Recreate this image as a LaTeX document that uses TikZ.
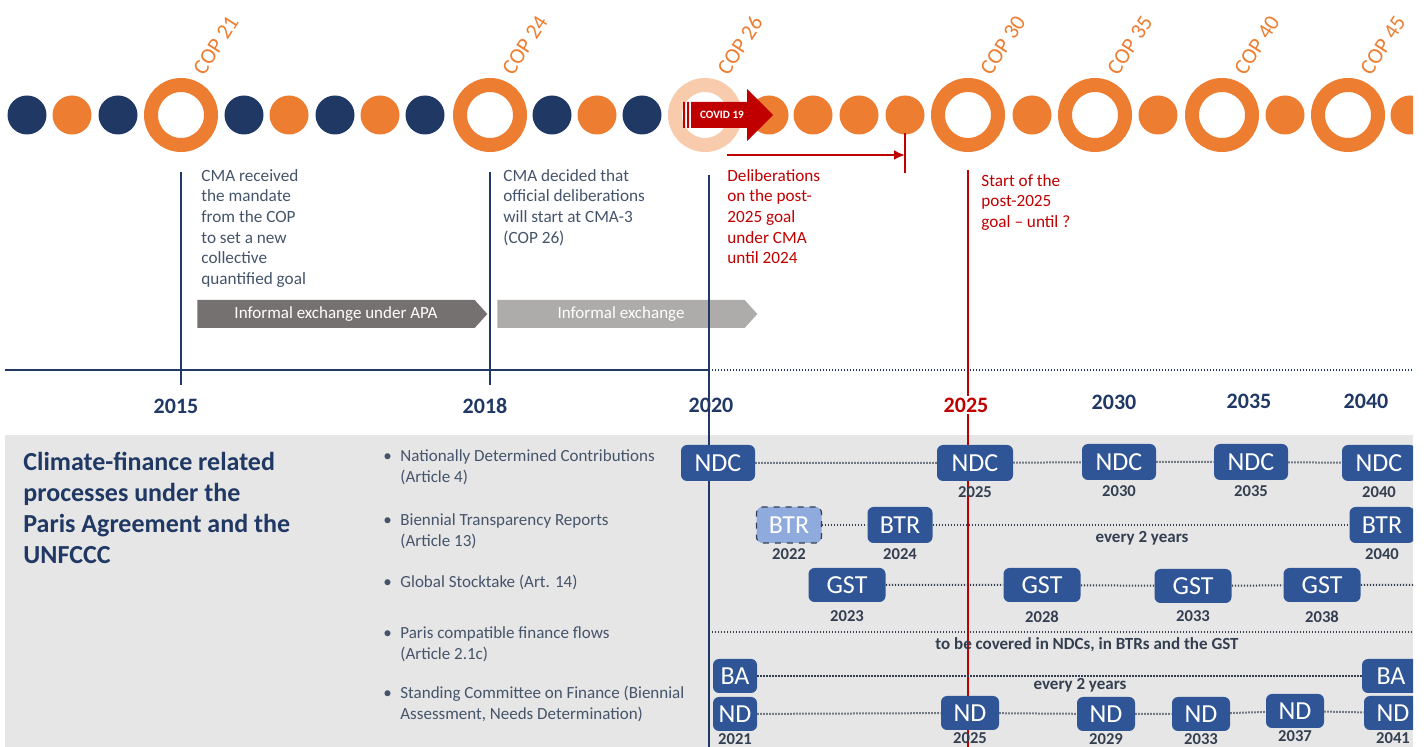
\documentclass[tikz,border=0pt]{standalone}
\usepackage{fontspec}
\setmainfont{Carlito}
\usepackage{tikz}
\usetikzlibrary{positioning,shapes,arrows.meta,calc}
\definecolor{copNavy}{HTML}{203864}
\definecolor{copOrange}{HTML}{ED7D31}
\definecolor{copPale}{HTML}{F8CBAD}
\definecolor{covidRed}{HTML}{C00000}
\definecolor{noteSlate}{HTML}{44546A}
\definecolor{exDark}{HTML}{767171}
\definecolor{exLight}{HTML}{AEABAB}
\definecolor{panelGray}{HTML}{E7E6E6}
\definecolor{procBlue}{HTML}{2F5597}
\definecolor{procLight}{HTML}{8FAADC}
\definecolor{procSlate}{HTML}{333F50}
\tikzset{
    copRing/.style={circle, draw=copOrange, line width=7pt, minimum size=30pt, inner sep=0pt, fill=white},
    copLabel/.style={rotate=57, anchor=west, inner sep=0pt, text=copOrange, font=\fontsize{11}{12}\selectfont},
    noteBase/.style={anchor=north west, align=left, inner sep=0pt, font=\fontsize{8.6}{10.3}\selectfont},
    note/.style={noteBase, text=noteSlate},
    noteRed/.style={noteBase, text=covidRed},
    exchange/.style={signal, signal to=east, signal pointer angle=96, minimum height=14pt, inner sep=0pt, text=white, font=\fontsize{8.5}{9}\selectfont},
    yearLabel/.style={font=\bfseries\fontsize{11}{12}\selectfont, text=copNavy, inner sep=1pt},
    % Process boxes
    proc/.style={rectangle, rounded corners=3pt, fill=procBlue, text=white, font=\fontsize{13}{13}\selectfont, minimum height=18pt, inner sep=0pt},
    procDraft/.style={proc, fill=procLight, draw=procSlate, dashed, line width=0.6pt},
    procYear/.style={font=\bfseries\fontsize{8.3}{9}\selectfont, text=procSlate, inner sep=0.5pt},
    procNote/.style={font=\bfseries\fontsize{8.5}{9}\selectfont, text=procSlate, inner sep=1pt},
    bulletItem/.style={anchor=north west, inner sep=0pt, text=noteSlate, font=\fontsize{8.5}{10.3}\selectfont},
    % Lines
    dotLink/.style={draw=procSlate, line width=1pt, dash pattern=on 0.6pt off 0.9pt},
    navyLine/.style={draw=copNavy, line width=1pt},
    redLine/.style={draw=covidRed, line width=1pt}
}
\begin{document}
\begin{tikzpicture}[x=0.5pt, y=-0.5pt,
    arr/.style={-{Latex[length=5.5pt, width=5pt]}, redLine, line width=1.2pt}
]
\useasboundingbox (0,0) rectangle (1424,747);
\clip (0,0) rectangle (1413,747);

% COP sequence
\fill[copNavy] (27,115) circle[radius=9.75pt] (118,115) circle[radius=9.75pt]
    (244,115) circle[radius=9.75pt] (335,115) circle[radius=9.75pt]
    (425,115) circle[radius=9.75pt] (552,115) circle[radius=9.75pt]
    (642,115) circle[radius=9.75pt];
\fill[copOrange] (72,115) circle[radius=9.75pt] (289,115) circle[radius=9.75pt]
    (380,115) circle[radius=9.75pt] (597,115) circle[radius=9.75pt]
    (769,115) circle[radius=9.75pt] (813,115) circle[radius=9.75pt]
    (859,115) circle[radius=9.75pt] (905,115) circle[radius=9.75pt]
    (1032,115) circle[radius=9.75pt] (1158,115) circle[radius=9.75pt]
    (1285,115) circle[radius=9.75pt] (1410,115) circle[radius=9.75pt];
\node[copRing] (cop21) at (181,115) {};
\node[copRing] (cop24) at (490,115) {};
\node[copRing, draw=copPale] (cop26) at (705,115) {};
\node[copRing] (cop30) at (968,115) {};
\node[copRing] (cop35) at (1095,115) {};
\node[copRing] (cop40) at (1222,115) {};
\node[copRing] (cop45) at (1348,115) {};
\node[copLabel] (cop21l) at ([shift={(17,-42)}]cop21.center) {COP 21};
\node[copLabel] (cop24l) at ([shift={(17,-42)}]cop24.center) {COP 24};
\node[copLabel] (cop26l) at ([shift={(17,-42)}]cop26.center) {COP 26};
\node[copLabel] (cop30l) at ([shift={(17,-42)}]cop30.center) {COP 30};
\node[copLabel] (cop35l) at ([shift={(17,-42)}]cop35.center) {COP 35};
\node[copLabel] (cop40l) at ([shift={(17,-42)}]cop40.center) {COP 40};
\node[copLabel] (cop45l) at ([shift={(17,-42)}]cop45.center) {COP 45};

% COVID arrow
\fill[covidRed] (683,102) rectangle (685,128) (687,102) rectangle (689,128);
\fill[covidRed] (691,102) -- (747,102) -- (747,89) -- (773,115) -- (747,141)
    -- (747,128) -- (691,128) -- cycle;
\node[text=white, font=\bfseries\fontsize{5.6}{6}\selectfont] (covid) at (722,115) {COVID 19};

% Deliberation period
\coordinate (delA) at (727,155);
\coordinate (delB) at (905,155);
\draw[arr] (delA) -- (delB);
\draw[redLine] (905,133) -- (905,173);

% Notes
\node[note] (mandate) at (201,169) {CMA received\\the mandate\\from the COP\\to set a new\\collective\\quantified goal};
\node[note] (decided) at (503,169) {CMA decided that\\official deliberations\\will start at CMA-3\\(COP 26)};
\node[noteRed] (deliber) at (727,169) {Deliberations\\on the post-\\2025 goal\\under CMA\\until 2024};
\node[noteRed] (start) at (981,174) {Start of the\\post-2025\\goal -- until ?};

\node[exchange, fill=exDark, minimum width=145pt] (apa) at (336,314) {Informal exchange under APA};
\node[exchange, fill=exLight, minimum width=130pt] (informal) at (621,314) {Informal exchange};

% Panel
\fill[panelGray] (5,435) rectangle (1413,747);

% Time axis
\draw[navyLine] (5,370) -- (709,370);
\draw[dotLink, draw=copNavy] (709,370) -- (1413,370);
\draw[navyLine] (181,172) -- (181,385);
\draw[navyLine] (490,172) -- (490,385);
\draw[navyLine] (709,175) -- (709,747);
\draw[redLine] (968,170) -- (968,747);

\node[yearLabel] (y2015) at (176,406) {2015};
\node[yearLabel] (y2018) at (485,406) {2018};
\node[yearLabel] (y2020) at (711,405) {2020};
\node[yearLabel, text=covidRed, fill=white] (y2025) at (966,405) {2025};
\node[yearLabel] (y2030) at (1114,402) {2030};
\node[yearLabel] (y2035) at (1249,401) {2035};
\node[yearLabel] (y2040) at (1366,401) {2040};

% Processes
\node[anchor=north west, align=left, inner sep=0pt, text=copNavy, font=\bfseries\fontsize{13}{15.5}\selectfont] (title) at (23,452) {Climate-finance related\\processes under the\\Paris Agreement and the\\UNFCCC};

\node[bulletItem] (itNdc) at (383,447) {\begin{tabular}{@{}p{8.5pt}@{}l@{}}\textbullet & Nationally Determined Contributions\\ & (Article 4)\end{tabular}};
\node[bulletItem] (itBtr) at (383,511) {\begin{tabular}{@{}p{8.5pt}@{}l@{}}\textbullet & Biennial Transparency Reports\\ & (Article 13)\end{tabular}};
\node[bulletItem] (itGst) at (383,573) {\begin{tabular}{@{}p{8.5pt}@{}l@{}}\textbullet & Global Stocktake (Art. 14)\end{tabular}};
\node[bulletItem] (itFlow) at (383,624) {\begin{tabular}{@{}p{8.5pt}@{}l@{}}\textbullet & Paris compatible finance flows\\ & (Article 2.1c)\end{tabular}};
\node[bulletItem] (itScf) at (383,684) {\begin{tabular}{@{}p{8.5pt}@{}l@{}}\textbullet & Standing Committee on Finance (Biennial\\ & Assessment, Needs Determination)\end{tabular}};

% NDC
\node[proc, minimum width=37pt] (ndc20) at (718,463) {NDC};
\node[proc, minimum width=38pt] (ndc25) at (975,463) {NDC};
\node[proc, minimum width=37pt] (ndc30) at (1119,462) {NDC};
\node[proc, minimum width=37pt] (ndc35) at (1251,462) {NDC};
\node[proc, minimum width=37pt] (ndc40) at (1379,463) {NDC};
\node[procYear, below=2pt of ndc25] (ndc25y) {2025};
\node[procYear, below=2pt of ndc30] (ndc30y) {2030};
\node[procYear, below=2pt of ndc35] (ndc35y) {2035};
\node[procYear, below=2pt of ndc40] (ndc40y) {2040};
\draw[dotLink] (ndc20) -- (ndc25) -- (ndc30) -- (ndc35) -- (ndc40);

% BTR
\node[procDraft, minimum width=32.5pt] (btr22) at (789,525) {BTR};
\node[proc, minimum width=32.5pt] (btr24) at (900,525) {BTR};
\node[proc, minimum width=32.5pt] (btr40) at (1382,525) {BTR};
\node[procYear, below=2pt of btr22] (btr22y) {2022};
\node[procYear, below=2pt of btr24] (btr24y) {2024};
\node[procYear, below=2pt of btr40] (btr40y) {2040};
\draw[dotLink] (btr22) -- (btr24) -- (btr40);
\node[procNote] (btrNote) at (1142,538) {every 2 years};

% GST
\node[proc, minimum width=38.5pt, minimum height=17pt] (gst23) at (847,585) {GST};
\node[proc, minimum width=38.5pt, minimum height=17pt] (gst28) at (1042,585) {GST};
\node[proc, minimum width=38.5pt, minimum height=17pt] (gst33) at (1193,586) {GST};
\node[proc, minimum width=38.5pt, minimum height=17pt] (gst38) at (1322,585) {GST};
\node[procYear, below=3.5pt of gst23] (gst23y) {2023};
\node[procYear, below=3.5pt of gst28] (gst28y) {2028};
\node[procYear, below=3pt of gst33] (gst33y) {2033};
\node[procYear, below=3.5pt of gst38] (gst38y) {2038};
\coordinate (gstEnd) at (1413,585);
\draw[dotLink] (gst23) -- (gst28) -- (gst33) -- (gst38) -- (gstEnd);

% Finance flows
\coordinate (flowA) at (709,632);
\coordinate (flowB) at (1413,632);
\draw[dotLink] (flowA) -- (flowB);
\node[procNote] (flowNote) at (1087,645) {to be covered in NDCs, in BTRs and the GST};

% SCF
\node[proc, minimum width=22pt, minimum height=17pt] (ba21) at (735,676) {BA};
\node[proc, minimum width=29pt, minimum height=17pt] (ba41) at (1391,676) {BA};
\draw[dotLink] (ba21) -- (ba41);
\node[procNote] (baNote) at (1080,685) {every 2 years};

\node[proc, minimum width=22pt, minimum height=17pt] (nd21) at (735,714) {ND};
\node[proc, minimum width=29pt, minimum height=17pt] (nd25) at (970,713) {ND};
\node[proc, minimum width=29pt, minimum height=17pt] (nd29) at (1106,714) {ND};
\node[proc, minimum width=29pt, minimum height=17pt] (nd33) at (1201,714) {ND};
\node[proc, minimum width=29pt, minimum height=17pt] (nd37) at (1295,711) {ND};
\node[proc, minimum width=29pt, minimum height=17pt] (nd41) at (1393,713) {ND};
\node[procYear, below=0.5pt of nd21] (nd21y) {2021};
\node[procYear, below=0.5pt of nd25] (nd25y) {2025};
\node[procYear, below=0.5pt of nd29] (nd29y) {2029};
\node[procYear, below=0.5pt of nd33] (nd33y) {2033};
\node[procYear, below=0.5pt of nd37] (nd37y) {2037};
\node[procYear, below=0.5pt of nd41] (nd41y) {2041};
\draw[dotLink] (nd21) -- (nd25) -- (nd29) -- (nd33) -- (nd37) -- (nd41);
\end{tikzpicture}
\end{document}
